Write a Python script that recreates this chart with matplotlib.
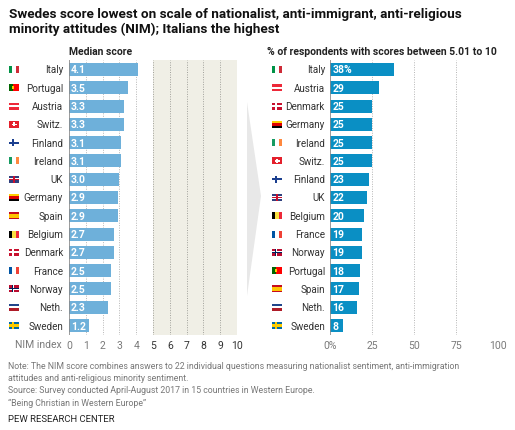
import matplotlib.pyplot as plt
import matplotlib.patches as mpatches
import matplotlib.transforms as mtransforms

# Данные
left_countries = ["Italy", "Portugal", "Austria", "Switz.", "Finland", "Ireland", "UK",
                  "Germany", "Spain", "Belgium", "Denmark", "France", "Norway", "Neth.", "Sweden"]
left_scores = [4.1, 3.5, 3.3, 3.3, 3.1, 3.1, 3.0, 2.9, 2.9, 2.7, 2.7, 2.5, 2.5, 2.3, 1.2]

right_countries = ["Italy", "Austria", "Denmark", "Germany", "Ireland", "Switz.", "Finland", "UK",
                   "Belgium", "France", "Norway", "Portugal", "Spain", "Neth.", "Sweden"]
right_pcts = [38, 29, 25, 25, 25, 25, 23, 22, 20, 19, 19, 18, 17, 16, 8]

left_ticks = [0, 1, 2, 3, 4, 5, 6, 7, 8, 9, 10]
right_ticks = [0, 25, 50, 75, 100]
right_ticklabels = ["0%", "25", "50", "75", "100"]

# Флаги (упрощённо)
FLAGS = {
    "Italy": ("v", ["#009246", "#ffffff", "#ce2b37"]),
    "Portugal": ("v2", ["#006600", "#ff0000"]),
    "Austria": ("h", ["#ed2939", "#ffffff", "#ed2939"]),
    "Switz.": ("cross", "#e4202c", "#ffffff", None, False),
    "Finland": ("cross", "#ffffff", "#1b3f8f", None, True),
    "Ireland": ("v", ["#169b62", "#ffffff", "#ff883e"]),
    "UK": ("cross", "#30407e", "#ffffff", "#c8102e", False),
    "Germany": ("h", ["#000000", "#dd0000", "#ffce00"]),
    "Spain": ("h3", ["#c60b1e", "#ffc400", "#c60b1e"]),
    "Belgium": ("v", ["#000000", "#fae042", "#ed2939"]),
    "Denmark": ("cross", "#c8102e", "#ffffff", None, True),
    "France": ("v", ["#0055a4", "#ffffff", "#ef4135"]),
    "Norway": ("cross", "#ba0c2f", "#ffffff", "#00205b", True),
    "Neth.": ("h", ["#ae1c28", "#ffffff", "#21468b"]),
    "Sweden": ("cross", "#006aa7", "#fecc00", None, True),
}

W, H = 515, 431
fig = plt.figure(figsize=(W / 100, H / 100), dpi=100)
plt.rcParams['font.family'] = ['Roboto', 'DejaVu Sans']

BAR_L = "#6eb0da"
BAR_R = "#0a8fc4"
GREY = "#7a7a7a"
SHADE = "#f0efe6"
LBL = 7.1
VAL = 7.5


def px(x0, y0, x1, y1):
    return [x0 / W, 1 - y1 / H, (x1 - x0) / W, (y1 - y0) / H]


def draw_flag(ax, name, y, xpix):
    spec = FLAGS[name]
    tr = mtransforms.blended_transform_factory(fig.transFigure, ax.transData)
    w = 10 / W
    h = 0.38
    x0 = xpix / W
    y0 = y - h / 2
    kind = spec[0]

    def rect(x, yy, ww, hh, c):
        fig.patches.append(mpatches.Rectangle((x, yy), ww, hh, transform=tr, color=c,
                                              lw=0, clip_on=False))
    if kind == "v":
        for i, c in enumerate(spec[1]):
            rect(x0 + i * w / 3, y0, w / 3, h, c)
    elif kind == "v2":
        rect(x0, y0, w * 0.4, h, spec[1][0])
        rect(x0 + w * 0.4, y0, w * 0.6, h, spec[1][1])
        rect(x0 + w * 0.3, y0 + h * 0.3, w * 0.2, h * 0.4, "#ffcc00")
    elif kind == "h":
        for i, c in enumerate(spec[1]):
            rect(x0, y0 + h - (i + 1) * h / 3, w, h / 3, c)
    elif kind == "h3":
        rect(x0, y0, w, h, spec[1][0])
        rect(x0, y0 + h / 4, w, h / 2, spec[1][1])
    elif kind == "cross":
        bg, cc, inner, nordic = spec[1], spec[2], spec[3], spec[4]
        rect(x0, y0, w, h, bg)
        cx = x0 + (w * 0.38 if nordic else w / 2)
        if name == "Switz.":
            rect(x0 + w * 0.4, y0 + h * 0.2, w * 0.2, h * 0.6, cc)
            rect(x0 + w * 0.25, y0 + h * 0.4, w * 0.5, h * 0.2, cc)
            return
        rect(cx - w * 0.12, y0, w * 0.24, h, cc)
        rect(x0, y0 + h * 0.35, w, h * 0.3, cc)
        if inner:
            rect(cx - w * 0.06, y0, w * 0.12, h, inner)
            rect(x0, y0 + h * 0.42, w, h * 0.16, inner)


# Левая панель
ax1 = fig.add_axes(px(69, 61.35, 237, 335.65))
ypos = list(range(len(left_countries)))
ax1.axvspan(5, 10, color=SHADE, zorder=0, lw=0)
ax1.barh(ypos, left_scores, height=0.71, color=BAR_L, zorder=2)
for y, v in zip(ypos, left_scores):
    ax1.text(0.12, y, f"{v:.1f}", color="white", fontsize=VAL, fontweight="bold",
             va="center", ha="left", zorder=3)
for t in left_ticks[1:]:
    ax1.axvline(t, color="#b5b5b5" if t < 5 else "#a0a09a", lw=0.7, ls=(0, (1, 1.5)), zorder=1)
ax1.axvline(0, color="#8a8a8a", lw=1.2, zorder=4)
ax1.set_xlim(0, 10)
ax1.set_ylim(len(left_countries) - 0.5, -0.5)
ax1.set_xticks(left_ticks)
ax1.set_xticklabels([str(t) for t in left_ticks], fontsize=7.5)
for lbl, t in zip(ax1.get_xticklabels(), left_ticks):
    lbl.set_color(GREY if t < 5 else "#333333")
ax1.set_yticks([])
ax1.tick_params(axis="x", length=0, pad=4)
for s in ax1.spines.values():
    s.set_visible(False)
for y, name in zip(ypos, left_countries):
    ax1.text(-0.35, y, name, ha="right", va="center", fontsize=LBL, color="#333333")
    draw_flag(ax1, name, y, 9)
fig.text(62 / W, 1 - 345 / H, "NIM index", ha="right", va="center", fontsize=7.5, color=GREY)
fig.text(101 / W, 1 - 52 / H, "Median score", ha="center", va="center",
         fontsize=7.5, fontweight="bold", color="#222222")

# Правая панель
ax2 = fig.add_axes(px(330, 61.35, 498, 335.65))
ax2.barh(ypos, right_pcts, height=0.71, color=BAR_R, zorder=2)
for y, v, i in zip(ypos, right_pcts, range(len(right_pcts))):
    ax2.text(1.5, y, f"{v}%" if i == 0 else str(v), color="white", fontsize=VAL,
             fontweight="bold", va="center", ha="left", zorder=3)
for t in right_ticks[1:]:
    ax2.axvline(t, color="#b5b5b5", lw=0.7, ls=(0, (1, 1.5)), zorder=1)
ax2.axvline(0, color="#8a8a8a", lw=1.2, zorder=4)
ax2.set_xlim(0, 100)
ax2.set_ylim(len(right_countries) - 0.5, -0.5)
ax2.set_xticks(right_ticks)
ax2.set_xticklabels(right_ticklabels, fontsize=7.5, color=GREY)
ax2.set_yticks([])
ax2.tick_params(axis="x", length=0, pad=4)
for s in ax2.spines.values():
    s.set_visible(False)
for y, name in zip(ypos, right_countries):
    ax2.text(-3.0, y, name, ha="right", va="center", fontsize=LBL, color="#333333")
    draw_flag(ax2, name, y, 272)
fig.text(382 / W, 1 - 52 / H, "% of respondents with scores between 5.01 to 10", ha="center",
         va="center", fontsize=7.5, fontweight="bold", color="#222222")

# Стрелка между панелями
arrow = [(247, 103), (261, 197), (247, 297)]
fig.patches.append(mpatches.Polygon([(x / W, 1 - y / H) for x, y in arrow], closed=True,
                                    transform=fig.transFigure, color="#e8e8e8", lw=0))

# Заголовок
fig.text(9 / W, 1 - 8 / H, "Swedes score lowest on scale of nationalist, anti-immigrant, anti-religious\n"
         "minority attitudes (NIM); Italians the highest", ha="left", va="top",
         fontsize=9.7, fontweight="bold", color="#111111", linespacing=1.2)

# Примечания
notes = ("Note: The NIM score combines answers to 22 individual questions measuring nationalist sentiment, anti-immigration\n"
         "attitudes and anti-religious minority sentiment.\n"
         "Source: Survey conducted April-August 2017 in 15 countries in Western Europe.\n"
         "\u201cBeing Christian in Western Europe\u201d")
fig.text(8 / W, 1 - 362 / H, notes, ha="left", va="top", fontsize=6.35, color="#777777",
         linespacing=1.45)
fig.text(8 / W, 1 - 415 / H, "PEW RESEARCH CENTER", ha="left", va="top", fontsize=6.8,
         color="#222222")

fig.savefig("out.png", dpi=100)
